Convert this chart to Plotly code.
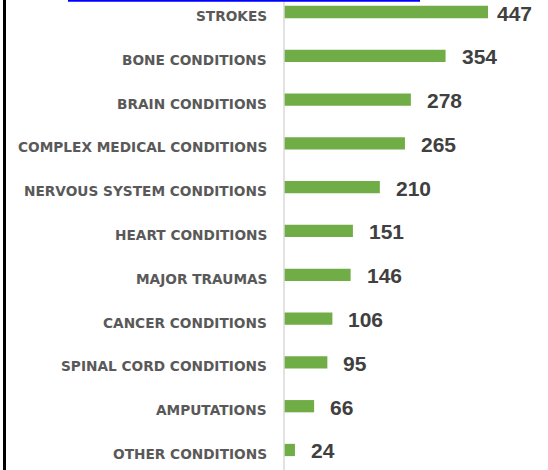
import plotly.graph_objects as go

categories = ["STROKES", "BONE CONDITIONS", "BRAIN CONDITIONS", "COMPLEX MEDICAL CONDITIONS",
              "NERVOUS SYSTEM CONDITIONS", "HEART CONDITIONS", "MAJOR TRAUMAS",
              "CANCER CONDITIONS", "SPINAL CORD CONDITIONS", "AMPUTATIONS", "OTHER CONDITIONS"]
values = [447, 354, 278, 265, 210, 151, 146, 106, 95, 66, 24]

W, H = 548, 470
L = 284
pos = list(range(len(categories)))

fig = go.Figure()
fig.add_trace(go.Bar(
    x=values, y=pos, orientation="h",
    marker=dict(color="#70AD47", line=dict(width=0)),
    width=0.28, hoverinfo="skip",
))

annotations = []
for p, c, v in zip(pos, categories, values):
    annotations.append(dict(
        x=0, y=p, xref="x", yref="y", text=c, showarrow=False,
        xanchor="right", yanchor="middle", xshift=-15, yshift=-4,
        font=dict(family="DejaVu Sans", size=13.7, color="#595959", weight="bold"),
    ))
    annotations.append(dict(
        x=v, y=p, xref="x", yref="y", text=str(v), showarrow=False,
        xanchor="left", yanchor="middle", xshift=(7 if p == 0 else 14), yshift=-1,
        font=dict(family="Liberation Sans", size=21, color="#404040", weight="bold"),
    ))

shapes = [
    dict(type="line", xref="paper", yref="paper", x0=0, x1=0, y0=0, y1=1,
         line=dict(color="#D9D9D9", width=1.5)),
    dict(type="line", xref="paper", yref="paper",
         x0=(68 - L) / (W - L), x1=(420 - L) / (W - L), y0=1 - 0.8 / H, y1=1 - 0.8 / H,
         line=dict(color="#0000FF", width=2)),
    dict(type="line", xref="paper", yref="paper",
         x0=(4.5 - L) / (W - L), x1=(4.5 - L) / (W - L), y0=0, y1=1,
         line=dict(color="#000000", width=3)),
]

fig.update_layout(
    width=W, height=H,
    margin=dict(l=L, r=0, t=0, b=0),
    paper_bgcolor="white", plot_bgcolor="white",
    showlegend=False,
    xaxis=dict(range=[0, (W - L) / 0.4564], visible=False, fixedrange=True),
    yaxis=dict(range=[10.457, -0.274], visible=False, fixedrange=True),
    annotations=annotations,
    shapes=shapes,
)

fig.write_html("out.html", config={"displayModeBar": False},
               post_script="document.body.style.margin='0';document.body.style.overflow='hidden';")
